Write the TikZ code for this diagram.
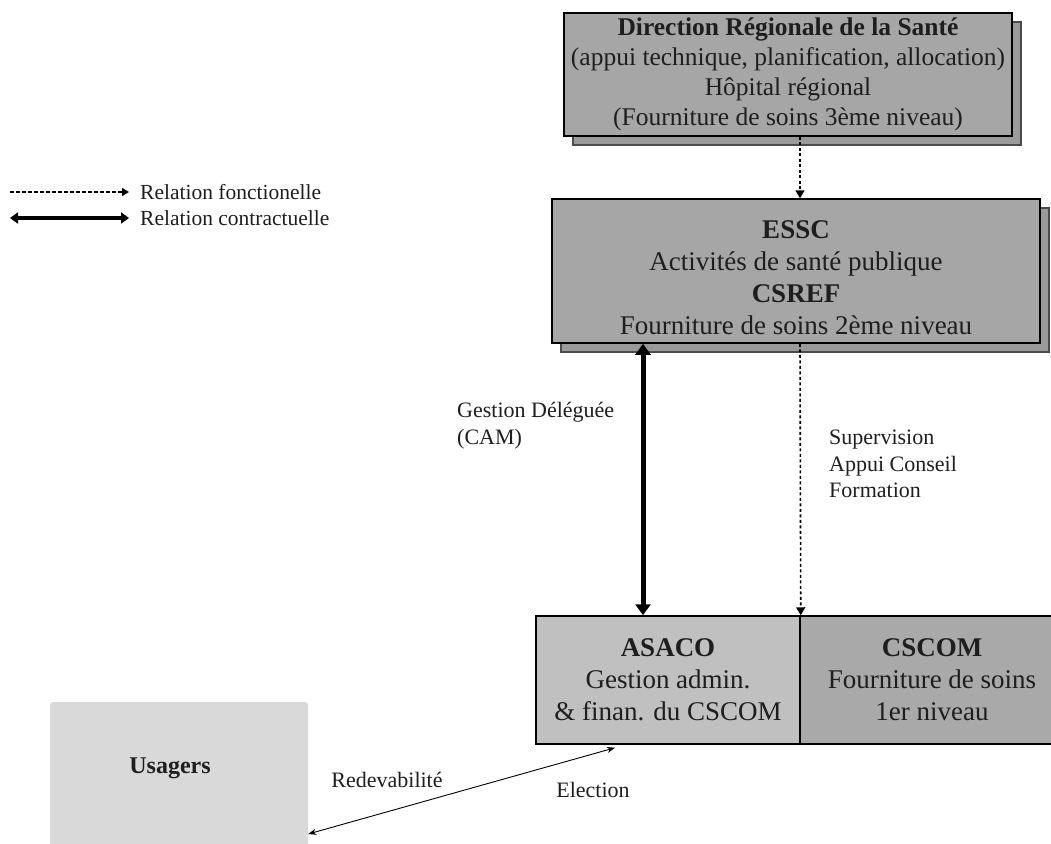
\documentclass[tikz,border=0pt]{standalone}
\usepackage{fontspec}
\setmainfont{Liberation Serif}
\usetikzlibrary{arrows.meta,shadows}
\definecolor{boxgray}{HTML}{A6A6A6}
\definecolor{shadgray}{HTML}{9A9A9A}
\definecolor{asacogray}{HTML}{C0C0C0}
\definecolor{cscomgray}{HTML}{A9A9A9}
\definecolor{usergray}{HTML}{D9D9D9}
\definecolor{ink}{HTML}{1E1E1E}
\tikzset{
  bigbox/.style={draw=black, line width=1.5pt, fill=boxgray, inner sep=0pt, align=center, text=ink,
    copy shadow={shadow xshift=9pt, shadow yshift=-9pt, fill=shadgray, draw=black!70, line width=1.2pt}},
  lowbox/.style={draw=black, line width=1.5pt, inner sep=0pt, align=center, text=ink,
    minimum width=264pt, minimum height=128pt},
  lbl/.style={text=ink, inner sep=0pt, align=left},
  func/.style={line width=1.6pt, dash pattern=on 3pt off 2.5pt, -{Triangle[length=8pt,width=9pt]}},
  contract/.style={line width=5pt, {Triangle[length=11pt,width=15pt]}-{Triangle[length=11pt,width=15pt]}},
  legfunc/.style={line width=1.3pt, dash pattern=on 3.5pt off 2.5pt, -{Triangle[length=7pt,width=8pt]}},
  legcontract/.style={line width=3.5pt, {Triangle[length=8pt,width=11pt]}-{Triangle[length=8pt,width=11pt]}},
  thin/.style={line width=0.9pt, {Stealth[length=8pt,width=6pt]}-{Stealth[length=8pt,width=6pt]}}
}
\begin{document}
\begin{tikzpicture}[x=1pt,y=-1pt]
\useasboundingbox (0,0) rectangle (1051,843);

% legend
\coordinate (l1a) at (10,192);
\coordinate (l1b) at (129,192);
\coordinate (l2a) at (10,218);
\coordinate (l2b) at (129,218);
\draw[legfunc] (l1a) -- (l1b);
\draw[legcontract] (l2a) -- (l2b);
\node[lbl, anchor=west, font=\fontsize{21.5}{25}\selectfont] (l1t) at (140,192) {Relation fonctionelle};
\node[lbl, anchor=west, font=\fontsize{21.5}{25}\selectfont] (l2t) at (140,218) {Relation contractuelle};

% top box
\node[bigbox, minimum width=448pt, minimum height=123pt, font=\fontsize{25.5}{30}\selectfont] (drs) at (788,74.5)
  {\textbf{Direction Régionale de la Santé}\\(appui technique, planification, allocation)\\Hôpital régional\\(Fourniture de soins 3ème niveau)};

% ESSC box
\node[bigbox, minimum width=488pt, minimum height=144pt, font=\fontsize{27}{32}\selectfont] (essc) at (796,271)
  {\rule{0pt}{31pt}\textbf{ESSC}\\Activités de santé publique\\\textbf{CSREF}\\Fourniture de soins 2ème niveau};

% bottom boxes
\node[lowbox, fill=asacogray, font=\fontsize{27}{32}\selectfont] (asaco) at (668,680)
  {\textbf{ASACO}\\Gestion admin.\\\& finan. du CSCOM};
\node[lowbox, fill=cscomgray, font=\fontsize{27}{32}\selectfont] (cscom) at (932,680)
  {\textbf{CSCOM}\\Fourniture de soins\\1er niveau};

% usagers
\node[fill=usergray, rounded corners=3pt, minimum width=258pt, minimum height=160pt, inner sep=0pt] (usagers) at (179,782) {};
\node[lbl, font=\fontsize{24}{28}\bfseries] (uslbl) at (170,768) {Usagers};

% connectors
\coordinate (fx) at (800,0);
\coordinate (cx) at (643,0);
\draw[func] (drs.south -| fx) -- (essc.north -| fx);
\draw[func] (essc.south -| fx) -- (asaco.north east);
\draw[contract] (essc.south -| cx) -- (asaco.north -| cx);
\draw[thin] ([yshift=-52pt]usagers.east) -- ([xshift=-53pt,yshift=-3pt]asaco.south);

% labels
\node[lbl, anchor=west, font=\fontsize{22}{27}\selectfont] (gd) at (457,426) {Gestion Déléguée\\(CAM)};
\node[lbl, anchor=west, font=\fontsize{22}{26.5}\selectfont] (sup) at (829,464) {Supervision\\Appui Conseil\\Formation};
\node[lbl, font=\fontsize{22}{25}\selectfont] (red) at (387,780) {Redevabilité};
\node[lbl, font=\fontsize{22}{25}\selectfont] (ele) at (593,790) {Election};
\end{tikzpicture}
\end{document}
